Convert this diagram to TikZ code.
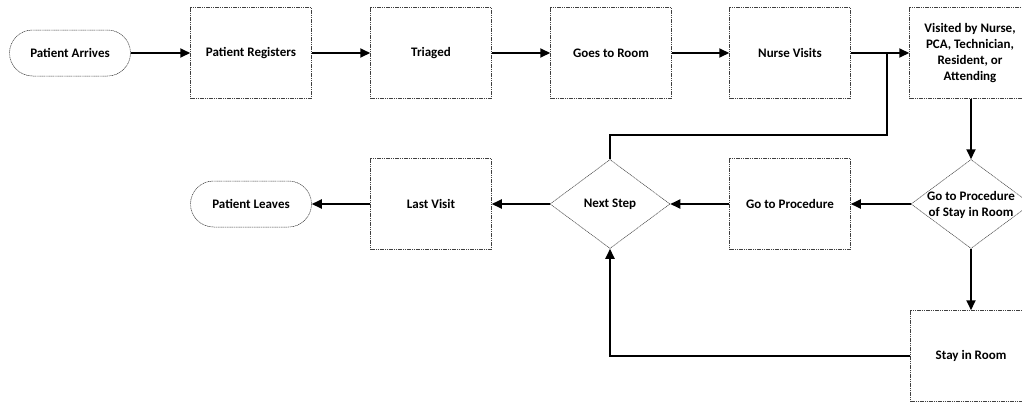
\documentclass[tikz,border=0pt]{standalone}
\usepackage{fontspec}
\setmainfont{Carlito}
\usetikzlibrary{arrows.meta,shapes.geometric}
\begin{document}
\begin{tikzpicture}[x=1pt,y=-1pt,
  txt/.style={font=\bfseries\fontsize{13}{16}\selectfont, align=center, text=black},
  outline/.style={draw=black!75, line width=0.5pt, dash pattern=on 1.2pt off 0.6pt},
  box/.style={outline, txt, minimum width=121pt, minimum height=91pt, inner sep=2pt},
  term/.style={outline, txt, rounded corners=23pt, minimum width=121pt, minimum height=46pt},
  dec/.style={outline, diamond, minimum width=120pt, minimum height=89pt, inner sep=0pt},
  arr/.style={draw=black, line width=1.8pt, -{Triangle[length=10pt,width=9pt]}},
  ln/.style={draw=black, line width=1.8pt}
]
\useasboundingbox (0,0) rectangle (1022,402);
\clip (0,0) rectangle (1022,402);
\fill[white] (0,0) rectangle (1022,402);

\node[term] (arrive) at (70,53) {Patient Arrives};
\node[box] (reg) at (251,53) {Patient Registers};
\node[box] (tri) at (431,53) {Triaged};
\node[box] (room) at (611,53) {Goes to Room};
\node[box] (nurse) at (790,53) {Nurse Visits};
\node[box] (visit) at (970,53) {Visited by Nurse,\\PCA, Technician,\\Resident, or\\Attending};

\node[dec] (choice) at (971,204) {};
\node[txt] (choicet) at (971,205) {Go to Procedure\\of Stay in Room};
\node[box] (proc) at (790,204) {Go to Procedure};
\node[dec] (next) at (610,204) {};
\node[txt] (nextt) at (610,204) {Next Step};
\node[box] (last) at (431,204) {Last Visit};
\node[term] (leave) at (251,204) {Patient Leaves};
\node[box] (stay) at (971,356) {Stay in Room};

\coordinate (j) at (887,135);

\draw[arr] (arrive) -- (reg);
\draw[arr] (reg) -- (tri);
\draw[arr] (tri) -- (room);
\draw[arr] (room) -- (nurse);
\draw[arr] (nurse) -- (visit);
\draw[ln] (next.north) |- (j) -- (j |- nurse.east);
\draw[arr] (visit.south -| choice.north) -- (choice.north);
\draw[arr] (choice.west) -- (proc.east);
\draw[arr] (proc.west) -- (next.east);
\draw[arr] (next.west) -- (last.east);
\draw[arr] (last.west) -- (leave.east);
\draw[arr] (choice.south) -- (stay.north);
\draw[arr] (stay.west) -| (next.south);
\end{tikzpicture}
\end{document}
